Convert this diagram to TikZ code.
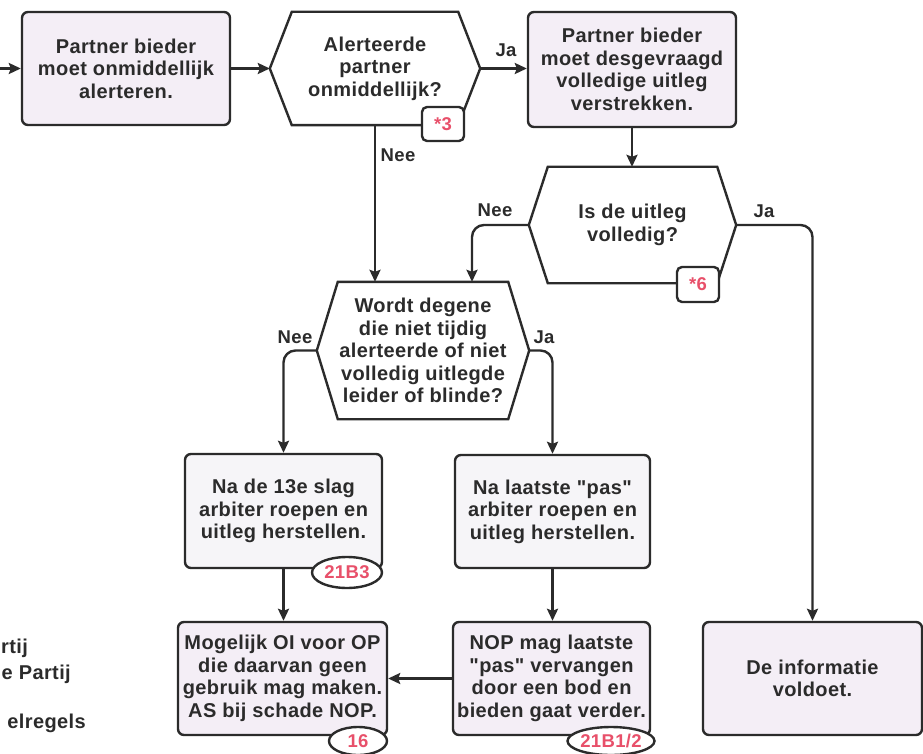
\documentclass[tikz,border=0pt]{standalone}
\usepackage{fontspec}
\setmainfont{Liberation Sans}[LetterSpace=2, Ligatures=TeXOff]
\usetikzlibrary{arrows.meta,shapes.geometric}
\definecolor{ink}{HTML}{2B2B2B}
\definecolor{lav}{HTML}{F4EEF6}
\definecolor{pale}{HTML}{F6F5F8}
\definecolor{badgered}{HTML}{E8506A}
\newcommand\hexpath[2]{\draw[hexline] (#1.north west) -- (#1.north east) -- ([xshift=#2]#1.east) coordinate (#1R) -- (#1.south east) -- (#1.south west) -- ([xshift=-#2]#1.west) coordinate (#1L) -- cycle;}
\begin{document}
\begin{tikzpicture}[x=1pt,y=-1pt,
  txt/.style={font=\bfseries\fontsize{20}{22.5}\selectfont, text=ink, align=center},
  box/.style={txt, draw=ink, line width=2.4pt, rounded corners=6pt, fill=#1, inner sep=0pt},
  hexcore/.style={txt, inner sep=0pt},
  hexline/.style={draw=ink, line width=2.4pt, line join=miter},
  arr/.style={draw=ink, line width=2.4pt, -{Stealth[length=12pt,width=11pt,inset=2pt]}},
  roundturn/.style={rounded corners=12pt},
  lbl/.style={font=\bfseries\fontsize{18.5}{20}\selectfont, text=ink},
  sqbadge/.style={draw=ink, line width=2.4pt, rounded corners=5pt, fill=white, text=badgered, font=\bfseries\fontsize{18.5}{20}\selectfont, inner sep=0pt, minimum width=42pt, minimum height=34pt},
  ellbadge/.style={ellipse, draw=ink, line width=2.4pt, fill=white, text=badgered, font=\bfseries\fontsize{18.5}{20}\selectfont, inner sep=0pt},
  legend/.style={font=\bfseries\fontsize{20}{22}\selectfont, text=ink, inner sep=0pt}
]
\useasboundingbox[fill=white] (0,0) rectangle (923,754);

% boxes
\node[box=lav, minimum width=208pt, minimum height=113pt] (b1) at (126,68.5) {Partner bieder\\moet onmiddellijk\\alerteren.};
\node[box=lav, minimum width=208pt, minimum height=115pt] (b3) at (632,69.5) {Partner bieder\\moet desgevraagd\\volledige uitleg\\verstrekken.};
\node[box=pale, minimum width=197pt, minimum height=114pt] (b4) at (283.5,511) {Na de 13e slag\\arbiter roepen en\\uitleg herstellen.};
\node[box=pale, minimum width=195pt, minimum height=113pt] (b5) at (552.5,511.5) {Na laatste "pas"\\arbiter roepen en\\uitleg herstellen.};
\node[box=lav, minimum width=209pt, minimum height=113pt] (b6) at (282.5,678.5) {Mogelijk OI voor OP\\die daarvan geen\\gebruik mag maken.\\AS bij schade NOP.};
\node[box=lav, minimum width=197pt, minimum height=113pt] (b7) at (551.5,678.5) {NOP mag laatste\\"pas" vervangen\\door een bod en\\bieden gaat verder.};
\node[box=lav, minimum width=219pt, minimum height=113pt] (b8) at (812.5,678.5) {De informatie\\voldoet.};

% hexagons
\node[hexcore, minimum width=166pt, minimum height=113pt] (h1) at (375,68.5) {Alerteerde\\partner\\onmiddellijk?};
\hexpath{h1}{22}
\node[hexcore, minimum width=169pt, minimum height=116pt] (h2) at (632.5,225) {Is de uitleg\\volledig?};
\hexpath{h2}{19}
\node[hexcore, minimum width=170pt, minimum height=137pt] (h3) at (423,350.5) {Wordt degene\\die niet tijdig\\alerteerde of niet\\volledig uitlegde\\leider of blinde?};
\hexpath{h3}{21}

% connectors
\coordinate (in) at (0,68.5);
\draw[arr] (in) -- (b1.west);
\draw[arr] (b1.east) -- (h1L);
\draw[arr] (h1R) -- (h1R -| b3.west);
\draw[arr] (b3.south) -- (b3.south |- h2.north);
\draw[arr] (h1.south) -- (h1.south |- h3.north);
\draw[arr, roundturn] (h2L) -| ([xshift=49pt]h3.north);
\draw[arr, roundturn] (h2R) -| (b8.north);
\draw[arr, roundturn] (h3L) -| (b4.north);
\draw[arr, roundturn] (h3R) -| (b5.north);
\draw[arr] (b4.south) -- (b4.south |- b6.north);
\draw[arr] (b5.south) -- (b5.south |- b7.north);
\draw[arr] (b7.west) -- (b6.east);

% connector labels
\node[lbl] (l1) at (506,50) {Ja};
\node[lbl] (l2) at (398,155) {Nee};
\node[lbl] (l3) at (495,210) {Nee};
\node[lbl] (l4) at (764,211) {Ja};
\node[lbl] (l5) at (295,337) {Nee};
\node[lbl] (l6) at (544,337) {Ja};

% badges
\node[sqbadge] (n3) at (443,124) {*3};
\node[sqbadge, minimum height=35pt] (n6) at (698,284.5) {*6};
\node[ellbadge, minimum width=70pt, minimum height=31pt] (r1) at (347,572.5) {21B3};
\node[ellbadge, minimum width=58pt, minimum height=28pt] (r2) at (358,741) {16};
\node[ellbadge, minimum width=78pt, minimum height=28pt] (r3) at (611,741) {21B1/2};

% cut-off legend
\node[legend, anchor=west] (g1) at (1,648) {rtij};
\node[legend, anchor=east] (g2) at (71,674) {e Partij};
\node[legend, anchor=east] (g3) at (86,723) {elregels};
\end{tikzpicture}
\end{document}
